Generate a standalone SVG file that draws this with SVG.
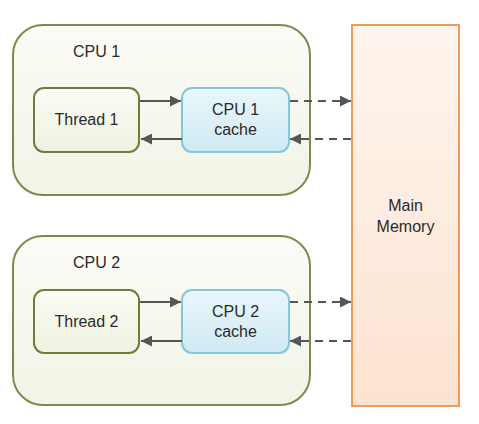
<svg xmlns="http://www.w3.org/2000/svg" width="479" height="424" viewBox="0 0 479 424">
<defs>
<linearGradient id="gCpu" x1="0" y1="0" x2="0" y2="1"><stop offset="0" stop-color="#fbfcf6"/><stop offset="1" stop-color="#f1f4e6"/></linearGradient>
<linearGradient id="gThr" x1="0" y1="0" x2="0" y2="1"><stop offset="0" stop-color="#fbfcf5"/><stop offset="1" stop-color="#eef2e0"/></linearGradient>
<linearGradient id="gCache" x1="0" y1="0" x2="0" y2="1"><stop offset="0" stop-color="#eaf6fa"/><stop offset="1" stop-color="#cfeaf3"/></linearGradient>
<linearGradient id="gMem" x1="0" y1="0" x2="0" y2="1"><stop offset="0" stop-color="#fef5ee"/><stop offset="1" stop-color="#fde3d1"/></linearGradient>
<marker id="ah" viewBox="0 0 10 10" refX="10" refY="5" markerWidth="11" markerHeight="11" markerUnits="userSpaceOnUse" orient="auto"><path d="M0,0 L10,5 L0,10 z" fill="#555"/></marker>
</defs>
<style>
.cpu{fill:url(#gCpu);stroke:#7d8a4c;stroke-width:2}
.thr{fill:url(#gThr);stroke:#6e7d3c;stroke-width:2}
.cache{fill:url(#gCache);stroke:#84c6dc;stroke-width:2}
.mem{fill:url(#gMem);stroke:#f09a5a;stroke-width:2}
text{font-family:"Liberation Sans",Arial,sans-serif;font-size:16px;fill:#2a2a2a}
.c{text-anchor:middle}
.ln{stroke:#555;stroke-width:2;fill:none;marker-end:url(#ah)}
.dash{stroke-dasharray:8,6}
</style>
<g id="cpu1"><rect class="cpu" x="13" y="25" width="297" height="170" rx="30"/><text x="73" y="57">CPU 1</text></g>
<g id="thread1"><rect class="thr" x="34" y="88" width="105" height="64" rx="10"/><text class="c" x="86.500" y="125">Thread 1</text></g>
<g id="cache1"><rect class="cache" x="182" y="88" width="107" height="64" rx="10"/><text class="c" x="235.500" y="115">CPU 1</text><text class="c" x="235.500" y="135">cache</text></g>
<g id="cpu2"><rect class="cpu" x="13" y="236" width="297" height="169" rx="30"/><text x="73" y="268">CPU 2</text></g>
<g id="thread2"><rect class="thr" x="34" y="290" width="105" height="63" rx="10"/><text class="c" x="86.500" y="327">Thread 2</text></g>
<g id="cache2"><rect class="cache" x="182" y="290" width="107" height="63" rx="10"/><text class="c" x="235.500" y="317">CPU 2</text><text class="c" x="235.500" y="337">cache</text></g>
<g id="memory"><rect class="mem" x="352" y="25" width="107" height="381"/><text class="c" x="405.500" y="211">Main</text><text class="c" x="405.500" y="232">Memory</text></g>
<g id="connectors">
<line class="ln" x1="140" y1="101" x2="181" y2="101"/>
<line class="ln" x1="182" y1="139" x2="141" y2="139"/>
<line class="ln dash" x1="290" y1="101" x2="351" y2="101"/>
<line class="ln dash" x1="351" y1="139" x2="290" y2="139"/>
<line class="ln" x1="140" y1="302" x2="181" y2="302"/>
<line class="ln" x1="182" y1="341" x2="141" y2="341"/>
<line class="ln dash" x1="290" y1="302" x2="351" y2="302"/>
<line class="ln dash" x1="351" y1="341" x2="290" y2="341"/>
</g>
</svg>
